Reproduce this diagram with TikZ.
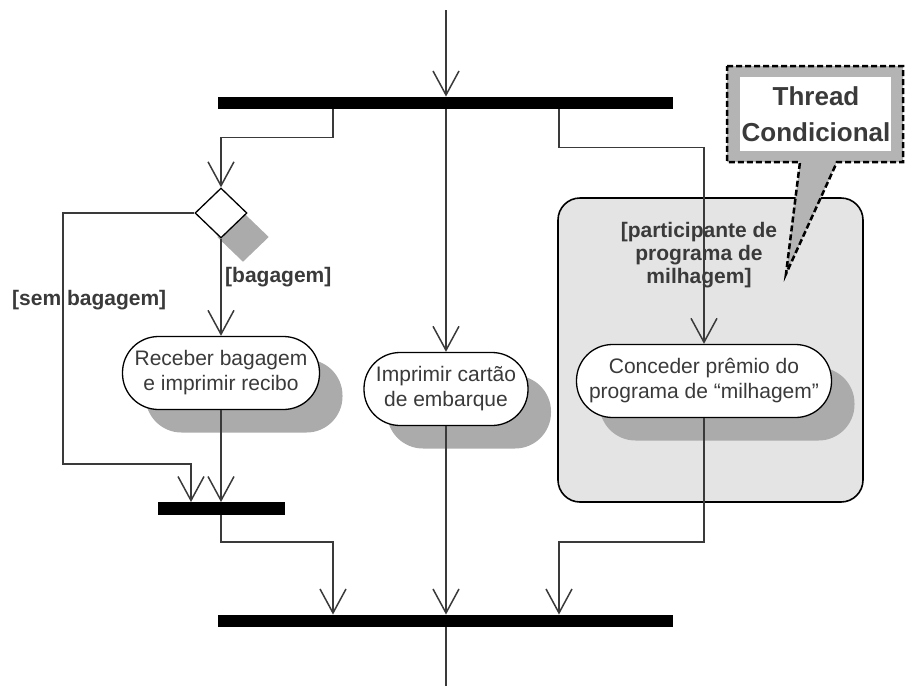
\documentclass[tikz,border=0pt]{standalone}
\usepackage{fontspec}
\setmainfont{Liberation Sans}
\usetikzlibrary{arrows.meta,positioning,shapes.geometric,shadows}
\definecolor{linegray}{HTML}{3A3A3A}
\definecolor{shadowgray}{HTML}{ABABAB}
\definecolor{regionbg}{HTML}{E4E4E4}
\definecolor{notegray}{HTML}{B4B4B4}

\begin{document}
\begin{tikzpicture}[x=1pt, y=-1pt,
    bar/.style={fill=black, inner sep=0pt, minimum height=12.5pt},
    action/.style={draw=black, line width=1.3pt, fill=white, rounded corners=36pt, minimum height=73pt, inner sep=0pt, align=center, font=\fontsize{21}{25}\selectfont, text=linegray, drop shadow={shadow xshift=23pt, shadow yshift=-23pt, fill=shadowgray, opacity=1}},
    decision/.style={diamond, draw=black, line width=1.3pt, fill=white, minimum width=52pt, minimum height=50pt, inner sep=0pt, drop shadow={shadow xshift=22pt, shadow yshift=-24pt, fill=shadowgray, opacity=1}},
    guard/.style={font=\bfseries\fontsize{21}{23}\selectfont, text=linegray, inner sep=0pt, align=center},
    flow/.style={-{Straight Barb[length=24pt, width=26pt]}, line width=1.5pt, color=linegray},
    plain/.style={line width=1.5pt, color=linegray},
    notebox/.style={draw=black, fill=notegray, line width=2.5pt, dash pattern=on 6pt off 3pt},
]
\useasboundingbox (0,0) rectangle (906,686);

\node[draw=black, line width=1.6pt, fill=regionbg, rounded corners=22pt, minimum width=305pt, minimum height=304pt, inner sep=0pt] (region) at (710.5,350) {};

\draw[notebox] (727,66) -- (903,66) -- (903,162) -- (837,162) -- (786,274) -- (800,162) -- (727,162) -- cycle;
\fill[white] (740,77) rectangle (891,151);
\node[font=\bfseries\fontsize{26}{36}\selectfont, align=center, text=linegray] (note) at (816,114) {Thread\\Condicional};

\coordinate (start) at (446,10);
\coordinate (finish) at (446,686);
\coordinate (bypass) at (63,464);

\node[bar, minimum width=455pt] (forktop) at (445.5,103) {};
\node[bar, minimum width=127pt] (joinbag) at (221.5,508.5) {};
\node[bar, minimum width=455pt] (joinall) at (445.5,621) {};

\node[decision] (choice) at (221,213) {};
\node[action, minimum width=197pt] (receber) at (221,373) {Receber bagagem\\e imprimir recibo};
\node[action, minimum width=164pt] (imprimir) at (446,389) {Imprimir cartão\\de embarque};
\node[action, minimum width=255pt] (conceder) at (704,381) {Conceder prêmio do\\programa de “milhagem”};

\node[guard, anchor=west] (lblbag) at (225,277) {[bagagem]};
\node[guard, anchor=west] (lblsem) at (12,300) {[sem bagagem]};
\node[guard] (lblmilha) at (699,255) {[participante de\\programa de\\milhagem]};

\draw[flow] (start) -- (start |- forktop.north);
\draw[flow] ([xshift=-112.5pt]forktop.south) -- ++(0,28) -| (choice.north);
\draw[flow] (forktop.south -| imprimir.north) -- (imprimir.north);
\draw[flow] ([xshift=113.5pt]forktop.south) -- ++(0,38) -| (conceder.north);
\draw[flow] (choice.south) -- (receber.north);
\draw[flow] (choice.west) -| (bypass) -| ([xshift=-30.5pt]joinbag.north);
\draw[flow] (receber.south) -- (receber.south |- joinbag.north);
\draw[flow] (joinbag.south -| receber.south) -- ++(0,27) -| ([xshift=-112.5pt]joinall.north);
\draw[flow] (imprimir.south) -- (imprimir.south |- joinall.north);
\draw[flow] (conceder.south) -- ++(0,124) -| ([xshift=113.5pt]joinall.north);
\draw[plain] (joinall.south -| finish) -- (finish);
\end{tikzpicture}
\end{document}
